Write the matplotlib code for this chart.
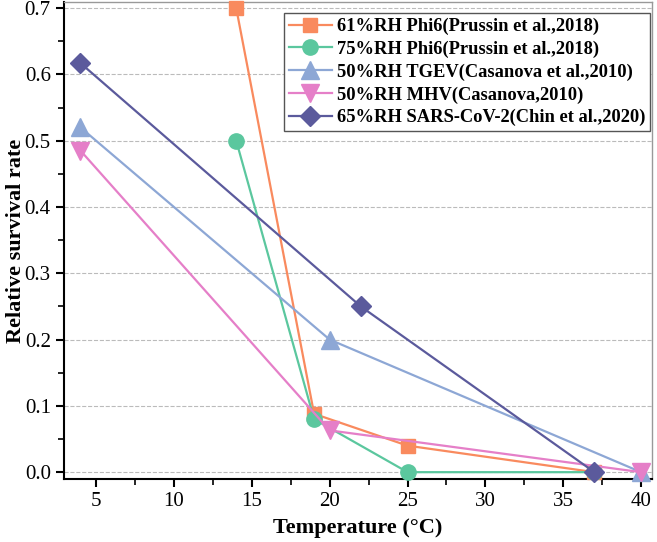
import matplotlib.pyplot as plt
from matplotlib.ticker import MultipleLocator

plt.rcParams['font.family'] = ['Liberation Serif', 'DejaVu Serif']

# 61%RH Phi6
t_phi6_61 = [14, 19, 25, 37]
s_phi6_61 = [0.70, 0.088, 0.04, 0.0]
# 75%RH Phi6
t_phi6_75 = [14, 19, 25, 37]
s_phi6_75 = [0.50, 0.08, 0.0, 0.0]
# 50%RH TGEV
t_tgev = [4, 20, 40]
s_tgev = [0.52, 0.20, 0.0]
# 50%RH MHV
t_mhv = [4, 20, 40]
s_mhv = [0.485, 0.063, 0.0]
# 65%RH SARS-CoV-2
t_sars = [4, 22, 37]
s_sars = [0.617, 0.25, 0.0]

series = [
    (t_phi6_61, s_phi6_61, '61%RH Phi6(Prussin et al.,2018)', '#F98A5E', 's', 10),
    (t_phi6_75, s_phi6_75, '75%RH Phi6(Prussin et al.,2018)', '#5BC79E', 'o', 11),
    (t_tgev, s_tgev, '50%RH TGEV(Casanova et al.,2010)', '#8DA7D5', '^', 13),
    (t_mhv, s_mhv, '50%RH MHV(Casanova,2010)', '#E57FC8', 'v', 13),
    (t_sars, s_sars, '65%RH SARS-CoV-2(Chin et al.,2020)', '#5B5A9C', 'D', 10),
]

fig = plt.figure(figsize=(6.57, 5.42), dpi=100)
ax = fig.add_axes([0.0974, 0.116, 0.895, 0.88])

for x, y, lab, col, mk, ms in series:
    ax.plot(x, y, color=col, marker=mk, markersize=ms, linewidth=1.6,
            label=lab, clip_on=False, zorder=3)

ax.set_xlim(2.94, 40.7)
ax.set_ylim(-0.0105, 0.709)
ax.xaxis.set_major_locator(MultipleLocator(5))
ax.xaxis.set_minor_locator(MultipleLocator(2.5))
ax.yaxis.set_major_locator(MultipleLocator(0.1))
ax.yaxis.set_minor_locator(MultipleLocator(0.05))
ax.yaxis.set_major_formatter(plt.FormatStrFormatter('%.1f'))
ax.tick_params(which='major', direction='out', length=6, width=1.5, labelsize=15)
ax.tick_params(which='minor', direction='out', length=4, width=1.2)
ax.grid(axis='y', which='major', linestyle='--', color='#BBBBBB', linewidth=0.8)
ax.set_axisbelow(True)

for s in ['left', 'bottom']:
    ax.spines[s].set_linewidth(1.5)
for s in ['top', 'right']:
    ax.spines[s].set_color('#999999')
    ax.spines[s].set_linewidth(1.0)

ax.set_xlabel('Temperature (°C)', fontsize=16, fontweight='bold', labelpad=5)
ax.set_ylabel('Relative survival rate', fontsize=16, fontweight='bold', labelpad=-1)

leg = ax.legend(loc='upper right', bbox_to_anchor=(0.997, 0.977), fancybox=False,
                edgecolor='#555555', framealpha=1, prop={'weight': 'bold', 'size': 13.3},
                handlelength=2.3, handletextpad=0.3, borderpad=0.25, labelspacing=0.3,
                borderaxespad=0)
leg.get_frame().set_linewidth(1.0)

fig.savefig('out.png', dpi=100)
